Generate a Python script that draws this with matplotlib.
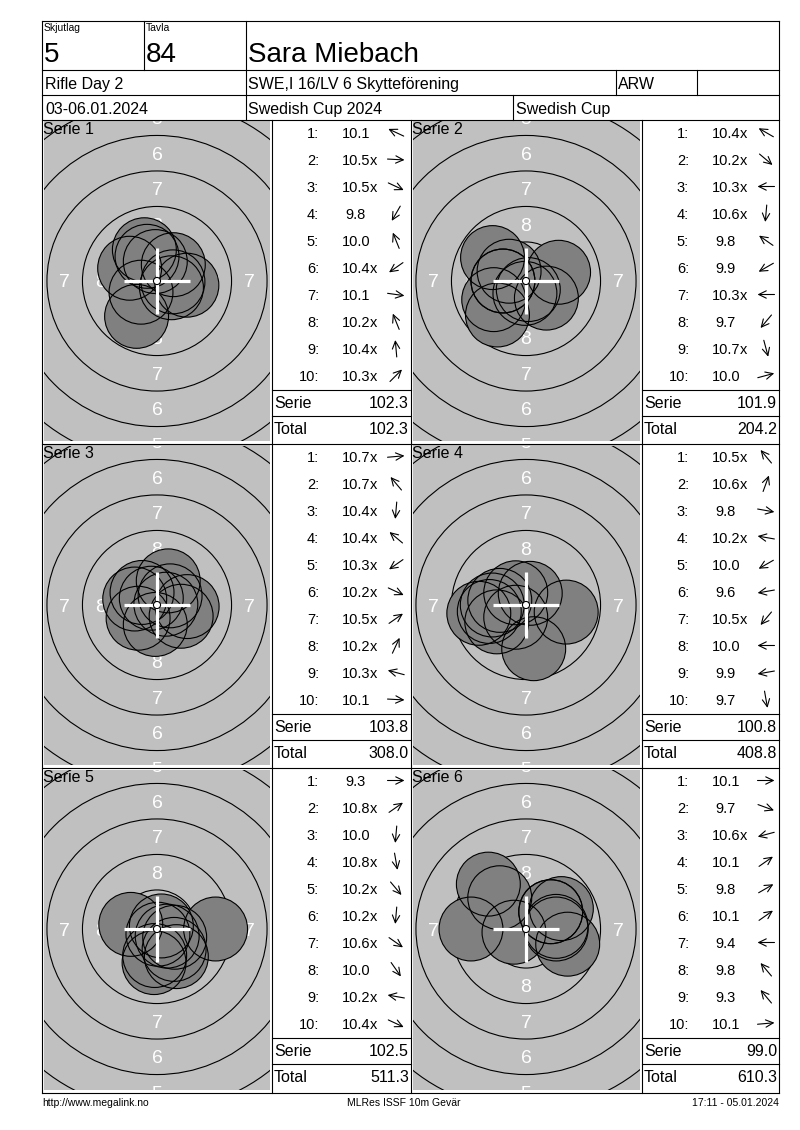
import numpy as np
import matplotlib.pyplot as plt
from matplotlib.patches import Circle, FancyArrowPatch

plt.rcParams['font.family'] = ['Liberation Sans', 'DejaVu Sans']

# ---- header / footer texts
RELAY = '5'
LANE = '84'
SHOOTER = 'Sara Miebach'
EVENT = 'Rifle Day 2'
CLUB = 'SWE,I 16/LV 6 Skytteförening'
CLASS = 'ARW'
DATES = '03-06.01.2024'
COMPETITION = 'Swedish Cup 2024'
CUP = 'Swedish Cup'
FOOT_LEFT = 'http://www.megalink.no'
FOOT_MID = 'MLRes ISSF 10m Gevär'
FOOT_RIGHT = '17:11 - 05.01.2024'

# ---- series data (score text as printed, direction of the arrow in degrees)
SERIE_NAMES = ['Serie 1', 'Serie 2', 'Serie 3', 'Serie 4', 'Serie 5', 'Serie 6']
SHOT_LABELS = [
    ['10.1', '10.5x', '10.5x', '9.8', '10.0', '10.4x', '10.1', '10.2x', '10.4x', '10.3x'],
    ['10.4x', '10.2x', '10.3x', '10.6x', '9.8', '9.9', '10.3x', '9.7', '10.7x', '10.0'],
    ['10.7x', '10.7x', '10.4x', '10.4x', '10.3x', '10.2x', '10.5x', '10.2x', '10.3x', '10.1'],
    ['10.5x', '10.6x', '9.8', '10.2x', '10.0', '9.6', '10.5x', '10.0', '9.9', '9.7'],
    ['9.3', '10.8x', '10.0', '10.8x', '10.2x', '10.2x', '10.6x', '10.0', '10.2x', '10.4x'],
    ['10.1', '9.7', '10.6x', '10.1', '9.8', '10.1', '9.4', '9.8', '9.3', '10.1'],
]
SHOT_DIRS = [
    [155, -3, -25, -120, 112, -145, -8, 112, 95, 45],
    [150, -40, 180, -95, 145, -150, 180, -130, -75, 15],
    [5, 130, -95, 140, -145, -25, 35, 65, 165, -3],
    [130, 70, -10, 170, -150, -170, -130, 180, -170, -80],
    [0, 35, -95, -80, -50, -95, -35, -55, 170, -25],
    [0, -20, -165, 35, 30, 35, 180, 130, 130, 5],
]
SERIE_SUMS = ['102.3', '101.9', '103.8', '100.8', '102.5', '99.0']
RUNNING_TOTALS = ['102.3', '204.2', '308.0', '408.8', '511.3', '610.3']

# ---- ISSF 10m air rifle target (mm)
RING_RADII = [22.75, 20.25, 17.75, 15.25, 12.75, 10.25, 7.75, 5.25, 2.75]
RING_NUMBERS = [5, 6, 7, 8]
TEN_DOT = 0.25
PELLET = 2.25

W, H = 800, 1130
S = 14.2  # pixels per mm on the target pictures
LW = 0.8
GREY = '#c0c0c0'
SHOT_GREY = '#808080'

COL_L = [42, 411]
COL_SC = [272, 642]
COL_R = [411, 779]
ROW_T = [120, 444, 768]
ROW_B = [444, 768, 1093]


def score_dist(label):
    # decimal scoring: 0.1 point per 0.25 mm from the centre
    s = float(label.rstrip('x'))
    return (10.95 - s) * 2.5


fig = plt.figure(figsize=(W / 100, H / 100), dpi=100)
fig.patch.set_facecolor('white')

for i in range(6):
    r, c = divmod(i, 2)
    L, SC, T, B = COL_L[c], COL_SC[c], ROW_T[r], ROW_B[r]
    x0, x1, y0, y1 = L + 1.5, SC - 2.5, T + 1.5, B - 3
    cx, cy = L + 115, T + 161
    ax = fig.add_axes([x0 / W, 1 - y1 / H, (x1 - x0) / W, (y1 - y0) / H])
    xlim = ((x0 - cx) / S, (x1 - cx) / S)
    ylim = ((cy - y1) / S, (cy - y0) / S)
    ax.set_xlim(*xlim)
    ax.set_ylim(*ylim)
    ax.set_facecolor(GREY)
    ax.set_xticks([])
    ax.set_yticks([])
    for sp in ax.spines.values():
        sp.set_visible(False)

    for rad in RING_RADII:
        ax.add_patch(Circle((0, 0), rad, fill=False, ec='black', lw=LW, zorder=2))
    for n in RING_NUMBERS:
        rm = (RING_RADII[n - 1] + RING_RADII[n]) / 2
        for dx, dy in [(0, 1), (0, -1), (1, 0), (-1, 0)]:
            # only numbers that at least partly show inside the picture
            if dx and abs(rm) > xlim[1]:
                continue
            if dy and abs(rm) > ylim[1] + 0.6:
                continue
            ax.text(dx * rm, dy * rm, str(n), color='white', fontsize=14,
                    ha='center', va='center_baseline', zorder=1, clip_on=True)

    ang = np.radians(SHOT_DIRS[i])
    d = np.array([score_dist(s) for s in SHOT_LABELS[i]])
    xs, ys = d * np.cos(ang), d * np.sin(ang)
    for x, y in zip(xs, ys):
        ax.add_patch(Circle((x, y), PELLET, fc=SHOT_GREY, ec='none', zorder=3))
    for x, y in zip(xs, ys):
        ax.add_patch(Circle((x, y), PELLET, fill=False, ec='black', lw=LW, zorder=4))

    hl = 33 / S
    ax.plot([-hl, hl], [0, 0], color='white', lw=2.3, solid_capstyle='butt', zorder=5)
    ax.plot([0, 0], [-hl, hl], color='white', lw=2.3, solid_capstyle='butt', zorder=5)
    ax.add_patch(Circle((0, 0), TEN_DOT, fc='white', ec='black', lw=LW, zorder=6))

# ---- page layout in pixel coordinates, drawn on top
lay = fig.add_axes([0, 0, 1, 1], zorder=10)
lay.set_xlim(0, W)
lay.set_ylim(H, 0)
lay.axis('off')


def hline(y, xa, xb):
    lay.plot([xa, xb], [y, y], color='black', lw=LW, solid_capstyle='projecting')


def vline(x, ya, yb):
    lay.plot([x, x], [ya, yb], color='black', lw=LW, solid_capstyle='projecting')


for y in [21, 70, 95, 120, 444, 768, 1093]:
    hline(y, 42, 779)
vline(42, 21, 1093)
vline(779, 21, 1093)
vline(144, 21, 70)
vline(246, 21, 120)
vline(616, 70, 95)
vline(697, 70, 95)
vline(513, 95, 120)
for x in [272, 411, 642]:
    vline(x, 120, 1093)

lay.text(44, 31, 'Skjutlag', fontsize=7.5)
lay.text(146, 31, 'Tavla', fontsize=7.5)
lay.text(44, 62, RELAY, fontsize=20)
lay.text(146, 62, LANE, fontsize=20)
lay.text(248, 62, SHOOTER, fontsize=20)
lay.text(45, 89, EVENT, fontsize=11.5)
lay.text(248, 89, CLUB, fontsize=11.5)
lay.text(618, 89, CLASS, fontsize=11.5)
lay.text(45, 114, DATES, fontsize=11.5)
lay.text(248, 114, COMPETITION, fontsize=11.5)
lay.text(516, 114, CUP, fontsize=11.5)

for i in range(6):
    r, c = divmod(i, 2)
    L, SC, R, T = COL_L[c], COL_SC[c], COL_R[c], ROW_T[r]
    lay.text(L + 1, T + 14, SERIE_NAMES[i], fontsize=11.5)
    for k, lab in enumerate(SHOT_LABELS[i]):
        yb = T + 18 + 27 * k
        lay.text(SC + 47, yb, '%d:' % (k + 1), fontsize=10.5, ha='right')
        lay.text(SC + 84, yb, lab.rstrip('x'), fontsize=10.5, ha='center')
        if lab.endswith('x'):
            lay.text(SC + 98, yb, 'x', fontsize=10.5, ha='left')
        a = np.radians(SHOT_DIRS[i][k])
        ax0, ay0 = SC + 124, yb - 5.5
        dx, dy = 8.5 * np.cos(a), -8.5 * np.sin(a)
        lay.add_patch(FancyArrowPatch((ax0 - dx, ay0 - dy), (ax0 + dx, ay0 + dy),
                                      arrowstyle='->,head_length=0.45,head_width=0.22',
                                      mutation_scale=12, lw=LW, color='black',
                                      shrinkA=0, shrinkB=0))
    hline(T + 270, SC, R)
    hline(T + 296, SC, R)
    lay.text(SC + 2, T + 288, 'Serie', fontsize=11.5)
    lay.text(R - 2, T + 288, SERIE_SUMS[i], fontsize=11.5, ha='right')
    lay.text(SC + 2, T + 314, 'Total', fontsize=11.5)
    lay.text(R - 2, T + 314, RUNNING_TOTALS[i], fontsize=11.5, ha='right')

foot = ['Liberation Sans Narrow', 'Liberation Sans', 'DejaVu Sans']
lay.text(42, 1106, FOOT_LEFT, fontsize=7.5, family=foot)
lay.text(404, 1106, FOOT_MID, fontsize=7.5, family=foot, ha='center')
lay.text(779, 1106, FOOT_RIGHT, fontsize=7.5, family=foot, ha='right')

fig.savefig('out.png', dpi=100)
